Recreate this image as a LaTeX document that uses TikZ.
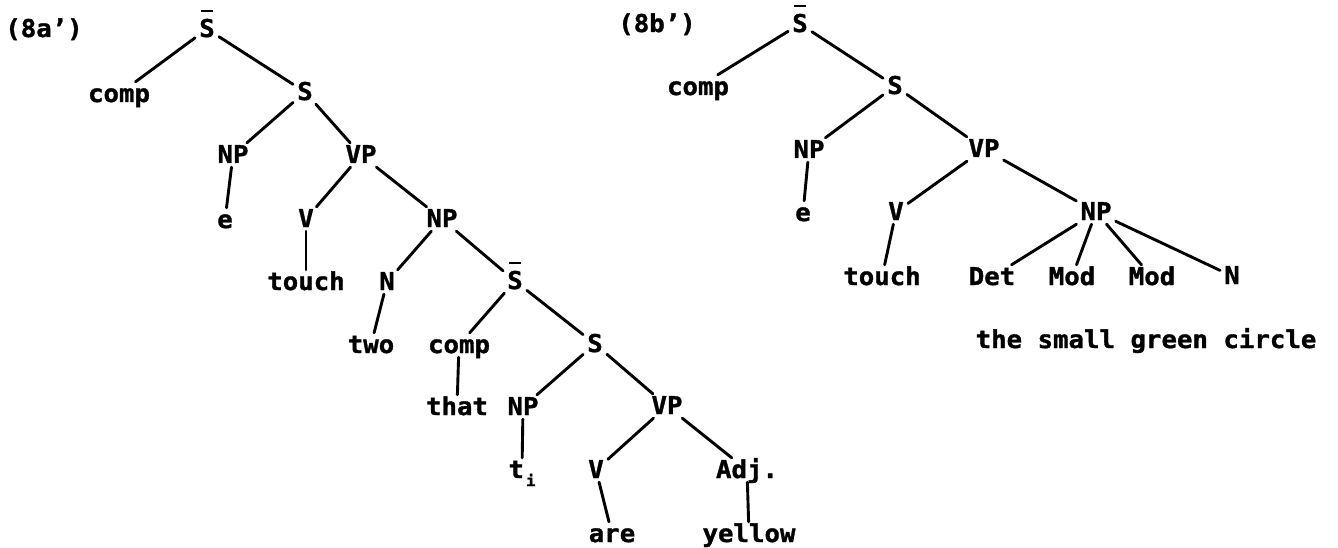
\documentclass[tikz,border=0pt]{standalone}
\usepackage{fontspec}
\newfontfamily\treefont{DejaVu Sans Mono}[FakeStretch=1.05,BoldFeatures={FakeBold=1.3}]
\newcommand\barS{\makebox[0pt][l]{\makebox[15.5pt][c]{\raisebox{25pt}[0pt][0pt]{\rule{12pt}{2.4pt}}}}S}
\newcommand\tsub{t\kern2pt\raisebox{-8pt}{\fontsize{15}{15}\selectfont i}}
\begin{document}
\begin{tikzpicture}[x=1pt,y=-1pt,
  lab/.style={anchor=base, inner sep=4pt, text height=16pt, text depth=0pt,
    font=\treefont\bfseries\fontsize{24.5}{28}\selectfont},
  edge/.style={line width=2.9pt, line cap=round}]
\useasboundingbox (0,0) rectangle (1338,548);
% left tree
\node[lab] (lA) at (44,37) {(8a’)};
\node[lab] (a0) at (207,37) {\barS};
\node[lab] (a1) at (119,102) {comp};
\node[lab] (a2) at (305,100) {S};
\node[lab] (a3) at (233,163) {NP};
\node[lab] (a4) at (361,163) {VP};
\node[lab] (a5) at (225,228) {e};
\node[lab] (a6) at (306,227) {V};
\node[lab] (a7) at (442,227) {NP};
\node[lab] (a8) at (306,290) {touch};
\node[lab] (a9) at (387,290) {N};
\node[lab] (a10) at (515,289) {\barS};
\node[lab] (a11) at (371,353) {two};
\node[lab] (a12) at (459,353) {comp};
\node[lab] (a13) at (595,352) {S};
\node[lab] (a14) at (457,415) {that};
\node[lab] (a15) at (523,415) {NP};
\node[lab] (a16) at (667,414) {VP};
\node[lab] (a17) at (522,478) {\tsub};
\node[lab] (a18) at (596,478) {V};
\node[lab] (a19) at (747,478) {Adj.};
\node[lab] (a20) at (612,542) {are};
\node[lab] (a21) at (749,542) {yellow};
\foreach \p/\c in {a0/a1,a0/a2,a2/a3,a2/a4,a3/a5,a4/a6,a4/a7,a6/a8,a7/a9,a7/a10,
  a9/a11,a10/a12,a10/a13,a12/a14,a13/a15,a13/a16,a15/a17,a16/a18,a16/a19,a18/a20,a19/a21}
  \draw[edge] (\p) -- (\c);
% right tree
\node[lab] (lB) at (657,32) {(8b’)};
\node[lab] (b0) at (800,32) {\barS};
\node[lab] (b1) at (698,95) {comp};
\node[lab] (b2) at (895,94) {S};
\node[lab] (b3) at (809,158) {NP};
\node[lab] (b4) at (984,157) {VP};
\node[lab] (b5) at (803,221) {e};
\node[lab] (b6) at (896,220) {V};
\node[lab] (b7) at (1096,220) {NP};
\node[lab] (b8) at (882,285) {touch};
\node[lab] (b9) at (992,285) {Det};
\node[lab] (b10) at (1072,285) {Mod};
\node[lab] (b11) at (1152,285) {Mod};
\node[lab] (b12) at (1232,284) {N};
\node[lab] (b13) at (1146,348) {the small green circle};
\foreach \p/\c in {b0/b1,b0/b2,b2/b3,b2/b4,b3/b5,b4/b6,b4/b7,b6/b8,b7/b9,b7/b10,b7/b11,b7/b12}
  \draw[edge] (\p) -- (\c);
\end{tikzpicture}
\end{document}
